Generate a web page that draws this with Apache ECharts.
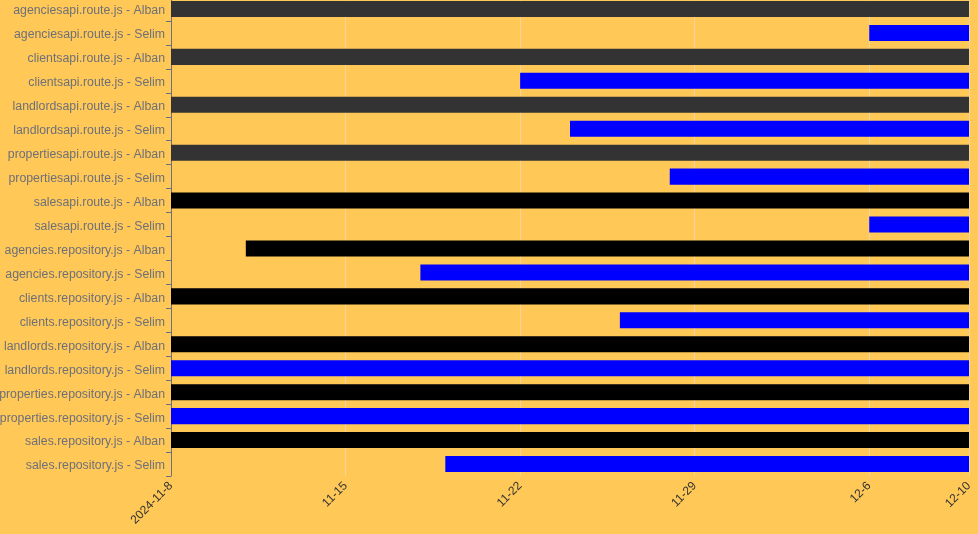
<!DOCTYPE html>
<html>
<head>
<meta charset="utf-8">
<script src="https://cdn.jsdelivr.net/npm/echarts@6/dist/echarts.min.js"></script>
<style>
html,body{margin:0;padding:0;background:#ffc857;}
#chart{width:978px;height:534px;}
</style>
</head>
<body>
<div id="chart"></div>
<script>
// ---- data ----
const categories = [
  'agenciesapi.route.js - Alban',
  'agenciesapi.route.js - Selim',
  'clientsapi.route.js - Alban',
  'clientsapi.route.js - Selim',
  'landlordsapi.route.js - Alban',
  'landlordsapi.route.js - Selim',
  'propertiesapi.route.js - Alban',
  'propertiesapi.route.js - Selim',
  'salesapi.route.js - Alban',
  'salesapi.route.js - Selim',
  'agencies.repository.js - Alban',
  'agencies.repository.js - Selim',
  'clients.repository.js - Alban',
  'clients.repository.js - Selim',
  'landlords.repository.js - Alban',
  'landlords.repository.js - Selim',
  'properties.repository.js - Alban',
  'properties.repository.js - Selim',
  'sales.repository.js - Alban',
  'sales.repository.js - Selim'
];
const startDates = [
  '2024-11-08','2024-12-06','2024-11-08','2024-11-22','2024-11-08',
  '2024-11-24','2024-11-08','2024-11-28','2024-11-08','2024-12-06',
  '2024-11-11','2024-11-18','2024-11-08','2024-11-26','2024-11-08',
  '2024-11-08','2024-11-08','2024-11-08','2024-11-08','2024-11-19'
];
const endDates = [
  '2024-12-10','2024-12-10','2024-12-10','2024-12-10','2024-12-10',
  '2024-12-10','2024-12-10','2024-12-10','2024-12-10','2024-12-10',
  '2024-12-10','2024-12-10','2024-12-10','2024-12-10','2024-12-10',
  '2024-12-10','2024-12-10','2024-12-10','2024-12-10','2024-12-10'
];
const axisStart = '2024-11-08';
const axisEnd = '2024-12-10';
const tickStepDays = 7;

// ---- helpers ----
function toDay(s) {
  const p = s.split('-').map(Number);
  const a = axisStart.split('-').map(Number);
  return (Date.UTC(p[0], p[1]-1, p[2]) - Date.UTC(a[0], a[1]-1, a[2])) / 86400000;
}
function dayLabel(v) {
  const a = axisStart.split('-').map(Number);
  const d = new Date(Date.UTC(a[0], a[1]-1, a[2]) + v * 86400000);
  const m = d.getUTCMonth() + 1, day = d.getUTCDate();
  return v === 0 ? d.getUTCFullYear() + '-' + m + '-' + day : m + '-' + day;
}

// ---- styles ----
const FONT = 'Arial, "Liberation Sans", sans-serif';
const grayRows = [0, 2, 4, 6];
function barColor(idx) {
  if (categories[idx].endsWith('Selim')) return '#0000ff';
  return grayRows.indexOf(idx) >= 0 ? '#333333' : '#000000';
}

const seriesData = categories.map((c, i) => [i, toDay(startDates[i]), toDay(endDates[i])]);

const chart = echarts.init(document.getElementById('chart'));
chart.setOption({
  backgroundColor: '#ffc857',
  animation: false,
  textStyle: { fontFamily: FONT },
  grid: { left: 171, width: 798, top: -3, height: 479, containLabel: false, outerBoundsMode: 'none' },
  xAxis: {
    type: 'value',
    min: 0,
    max: toDay(axisEnd),
    interval: tickStepDays,
    axisLine: { show: false },
    axisTick: { show: false },
    splitLine: { show: true, lineStyle: { color: '#f0d6a0' } },
    axisLabel: {
      rotate: 45,
      color: '#333',
      fontSize: 12,
      fontFamily: FONT,
      formatter: dayLabel
    }
  },
  yAxis: {
    type: 'category',
    inverse: true,
    data: categories,
    axisLine: { show: true, lineStyle: { color: '#6E7079' } },
    axisTick: { show: true },
    axisLabel: {
      margin: 6,
      formatter: function (v) { return '{a|' + v + '}'; },
      rich: { a: { color: '#6E7079', fontSize: 12.3, fontFamily: FONT, padding: [4, 0, 0, 0] } }
    }
  },
  series: [{
    type: 'custom',
    encode: { x: [1, 2], y: 0 },
    data: seriesData,
    renderItem: function (params, api) {
      const idx = api.value(0);
      const s = api.coord([api.value(1), idx]);
      const e = api.coord([api.value(2), idx]);
      const h = api.size([0, 1])[1] * 0.67;
      return {
        type: 'rect',
        shape: { x: s[0], y: s[1] - h / 2, width: e[0] - s[0], height: h },
        style: { fill: barColor(idx) }
      };
    }
  }]
});
</script>
</body>
</html>
